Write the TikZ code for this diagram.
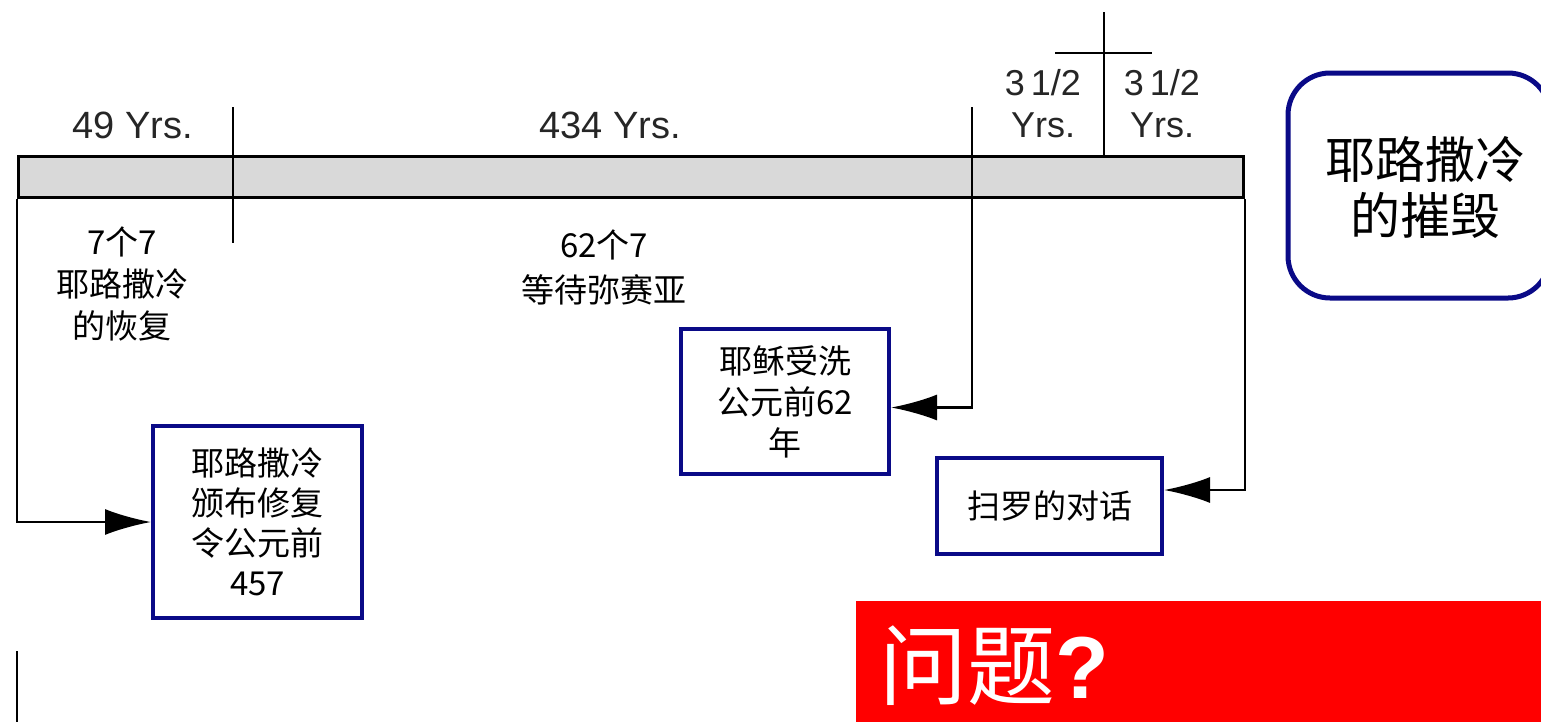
\documentclass[tikz,border=0pt]{standalone}
\usepackage{fontspec}
\setmainfont{Liberation Sans}
\newfontfamily\cjk{Noto Sans CJK SC}
\usetikzlibrary{arrows.meta,calc}
\definecolor{navy}{RGB}{10,10,135}
\definecolor{barfill}{RGB}{217,217,217}
\definecolor{qred}{RGB}{255,0,0}
\tikzset{
  ln/.style={line width=2.5pt,black},
  arr/.style={ln,-{Latex[length=46pt,width=26pt]}},
  yrs/.style={font=\fontsize{38}{42}\selectfont,text=black!85,align=center,inner sep=0pt},
  lbl/.style={font=\cjk\fontsize{33}{42}\selectfont,align=center,inner sep=0pt},
  bbox/.style={draw=navy,line width=4pt,fill=white,font=\cjk\fontsize{33}{40}\selectfont,align=center,inner sep=0pt},
}
\begin{document}
\begin{tikzpicture}[x=1pt,y=-1pt]
\useasboundingbox (0,0) rectangle (1541,721);
% bar
\node[draw,line width=3pt,fill=barfill,minimum width=1225pt,minimum height=41pt,anchor=north west,inner sep=0pt] (bar) at (17,155) {};
% ticks
\coordinate (t1a) at (233,107); \coordinate (t1b) at (233,243);
\draw[ln] (t1a) -- (t1b);
\coordinate (t2a) at (1104,12); \coordinate (t2b) at (1104,155);
\draw[ln] (t2a) -- (t2b);
\coordinate (h1) at (1055,53); \coordinate (h2) at (1152,53);
\draw[ln] (h1) -- (h2);
\coordinate (t3a) at (972,107);
\coordinate (bl1) at (17,651); \coordinate (bl2) at (17,725);
\draw[ln] (bl1) -- (bl2);
% labels above
\node[yrs] (y1) at (133,125) {49 Yrs.};
\node[yrs] (y2) at (610,125) {434 Yrs.};
\node[yrs,font=\fontsize{36}{42}\selectfont] (y3) at (1043,104) {3\,1/2\\Yrs.};
\node[yrs,font=\fontsize{36}{42}\selectfont] (y4) at (1162,104) {3\,1/2\\Yrs.};
% labels below
\node[lbl] (l1) at (122,284) {7个7\\耶路撒冷\\的恢复};
\node[lbl,font=\cjk\fontsize{33}{45}\selectfont] (l2) at (604,267) {62个7\\等待弥赛亚};
% boxes
\node[bbox,minimum width=209pt,minimum height=192pt] (b1) at (257.5,522) {耶路撒冷\\颁布修复\\令公元前\\457};
\node[bbox,minimum width=208pt,minimum height=145pt,font=\cjk\fontsize{33}{41}\selectfont] (b2) at (785,401.5) {耶稣受洗\\公元前62\\年};
\node[bbox,minimum width=225pt,minimum height=96pt] (b3) at (1049.5,506) {扫罗的对话};
\node[draw=navy,line width=5pt,rounded corners=42pt,minimum width=262pt,minimum height=225pt,fill=white,inner sep=0pt] (b4) at (1419,185.5) {};
\node[font=\cjk\fontsize{50}{56}\selectfont,align=center,inner sep=0pt] (b4t) at (1425,187) {耶路撒冷\\的摧毁};
% connectors
\draw[arr] (bar.south west) |- (b1.west);
\draw[arr] (t3a) |- ([yshift=-6pt]b2.east);
\draw[arr] (bar.south east) |- ([yshift=16pt]b3.east);
% red box
\fill[qred] (856,601) rectangle (1550,730);
\node[anchor=west,inner sep=0pt,text=white,font=\cjk\fontsize{88}{90}\selectfont] (q) at (879,666)
  {问题{\fontspec{Liberation Sans}\bfseries ?}};
\end{tikzpicture}
\end{document}
